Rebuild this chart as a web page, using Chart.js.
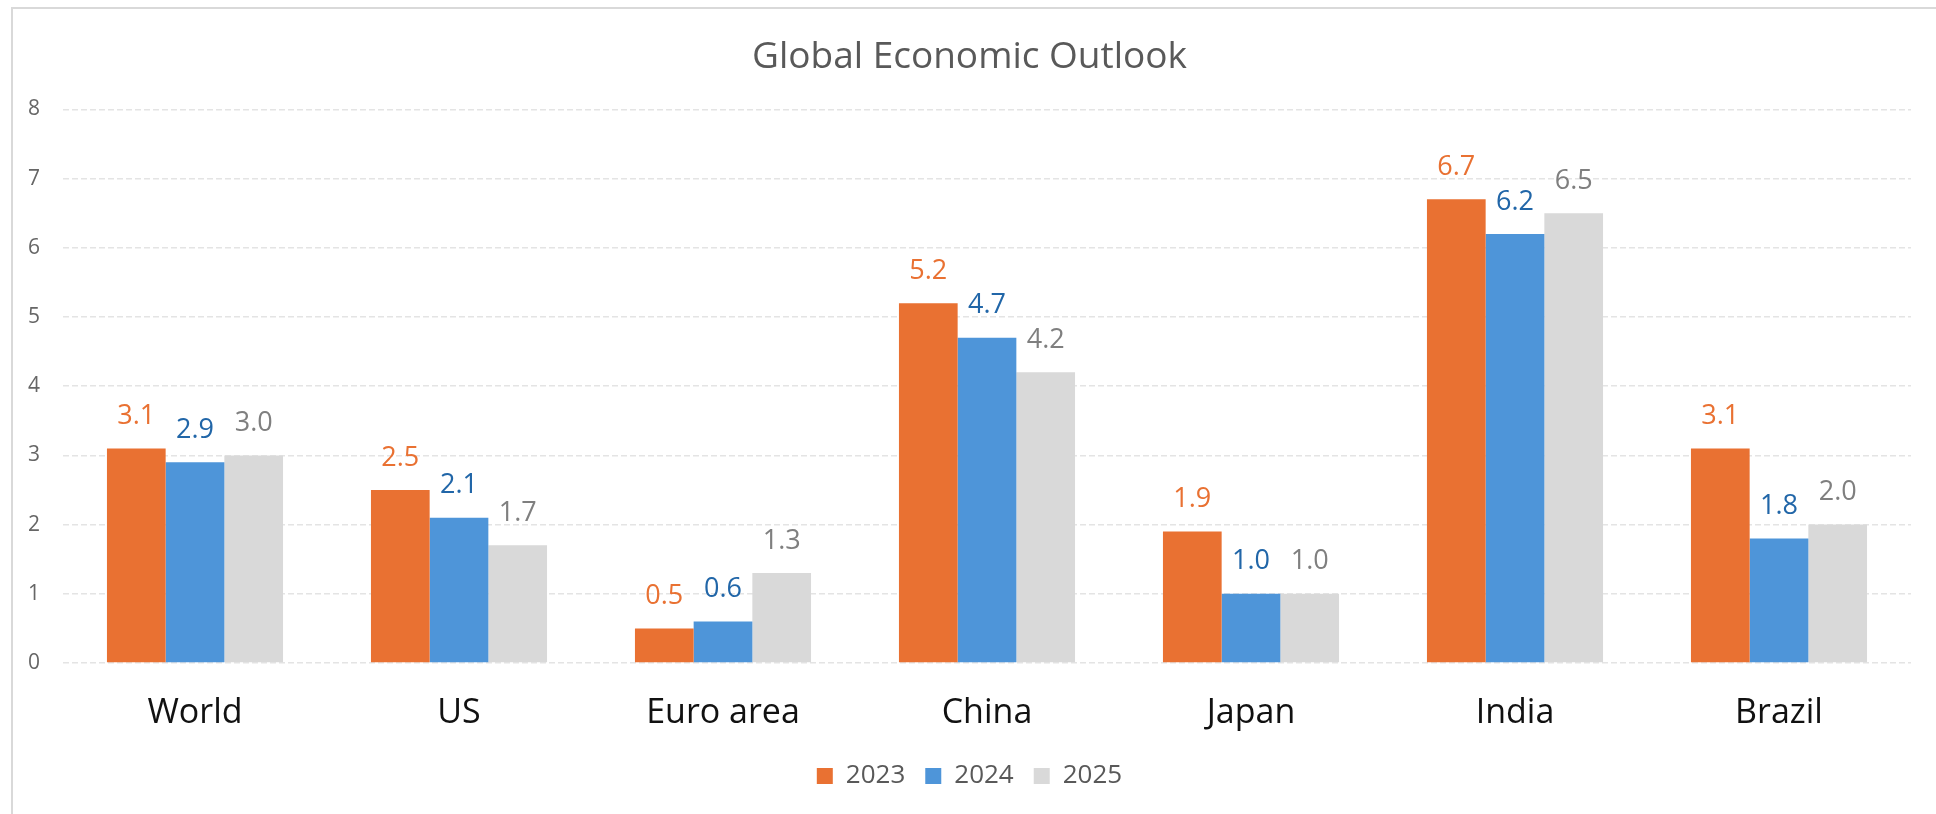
<!DOCTYPE html>
<html>
<head>
<meta charset="utf-8">
<script src="https://cdn.jsdelivr.net/npm/chart.js@4/dist/chart.umd.min.js"></script>
<style>
    html, body { margin: 0; padding: 0; background: #fff; overflow: hidden; }
    #frame { position: absolute; left: 11px; top: 7px; width: 2000px; height: 900px;
             border-left: 2px solid #d9d9d9; border-top: 2px solid #d9d9d9; }
    #outlook-chart { position: absolute; left: 0; top: 0; }
</style>
</head>
<body>
<div id="frame"></div>
<canvas id="outlook-chart" width="1936" height="814"></canvas>
<script>
const categories = ["World", "US", "Euro area", "China", "Japan", "India", "Brazil"];
const years = ["2023", "2024", "2025"];
const values2023 = [3.1, 2.5, 0.5, 5.2, 1.9, 6.7, 3.1];
const values2024 = [2.9, 2.1, 0.6, 4.7, 1.0, 6.2, 1.8];
const values2025 = [3.0, 1.7, 1.3, 4.2, 1.0, 6.5, 2.0];

const barColors = ["#e97132", "#4e95d9", "#d9d9d9"];
const labelColors = ["#e97132", "#2166a8", "#7f7f7f"];
const fontFamily = "'Open Sans', Lato, sans-serif";

// value labels above each bar
const valueLabels = {
    id: 'valueLabels',
    afterDatasetsDraw(chart) {
        const ctx = chart.ctx;
        ctx.save();
        ctx.font = "27px " + fontFamily;
        ctx.textAlign = 'center';
        ctx.textBaseline = 'middle';
        chart.data.datasets.forEach((ds, i) => {
            const meta = chart.getDatasetMeta(i);
            ctx.fillStyle = labelColors[i];
            meta.data.forEach((bar, j) => {
                ctx.fillText(ds.data[j].toFixed(1), bar.x, bar.y - 32);
            });
        });
        ctx.restore();
    }
};

const seriesValues = [values2023, values2024, values2025];
const datasets = years.map((year, i) => ({
    label: year,
    data: seriesValues[i],
    backgroundColor: barColors[i],
    borderWidth: 0,
    categoryPercentage: 0.667,
    barPercentage: 1.0
}));

const ctx = document.getElementById('outlook-chart');

const chart = new Chart(ctx, {
    type: 'bar',
    data: {
        labels: categories,
        datasets: datasets
    },
    options: {
        responsive: false,
        animation: false,
        layout: {
            padding: { left: 28, right: 25, top: 0, bottom: 15 }
        },
        scales: {
            x: {
                grid: { display: false, drawTicks: false },
                border: { display: false },
                ticks: {
                    color: "#111",
                    font: { family: fontFamily, size: 34 },
                    padding: 30
                },
                afterFit: (scale) => { scale.height = 80; }
            },
            y: {
                min: 0,
                max: 8,
                grid: { color: "#e4e4e4", lineWidth: 1.5, drawTicks: false },
                border: { display: false, dash: [6, 3] },
                ticks: {
                    stepSize: 1,
                    color: "#666",
                    font: { family: fontFamily, size: 21 },
                    padding: 23
                },
                afterFit: (scale) => { scale.width = 35; }
            }
        },
        plugins: {
            title: {
                display: true,
                text: "Global Economic Outlook",
                color: "#595959",
                font: { family: fontFamily, size: 37, weight: 'normal' },
                padding: { top: 35, bottom: 30 }
            },
            legend: {
                position: 'bottom',
                labels: {
                    boxWidth: 16,
                    boxHeight: 16,
                    padding: 20,
                    color: "#595959",
                    font: { family: fontFamily, size: 26 }
                }
            },
            tooltip: { enabled: false }
        }
    },
    plugins: [valueLabels]
});
</script>
</body>
</html>
